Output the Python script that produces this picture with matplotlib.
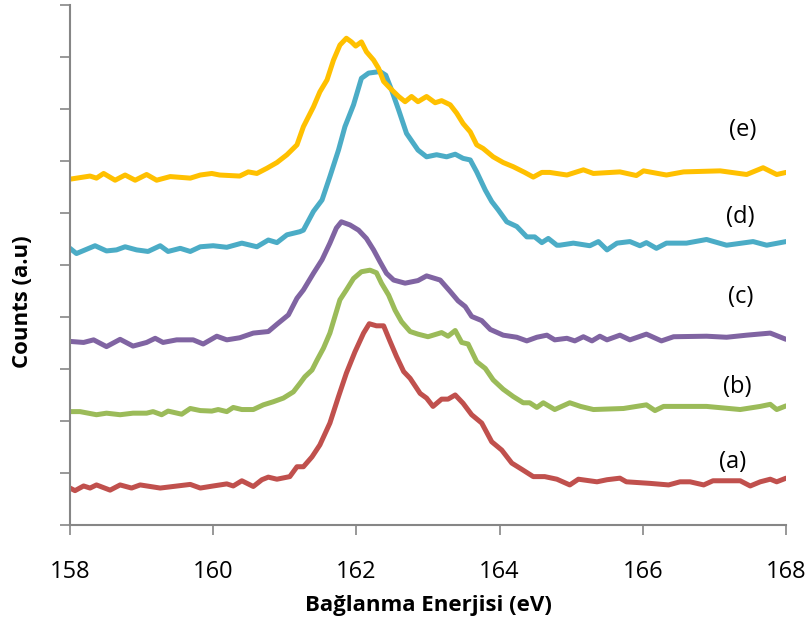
import matplotlib
matplotlib.use("Agg")
import matplotlib.pyplot as plt

# S 2p spectra, stacked (counts in arbitrary units)
energy_a = [158.00, 158.07, 158.19, 158.28, 158.37, 158.56, 158.70, 158.86, 158.98, 159.26,
            159.44, 159.68, 159.82, 160.00, 160.19, 160.28, 160.40, 160.56, 160.68, 160.77,
            160.89, 161.07, 161.17, 161.26, 161.38, 161.49, 161.63, 161.75, 161.86, 161.98,
            162.10, 162.18, 162.28, 162.38, 162.47, 162.56, 162.66, 162.75, 162.89, 162.98,
            163.07, 163.19, 163.28, 163.38, 163.49, 163.61, 163.75, 163.89, 164.03, 164.17,
            164.31, 164.47, 164.63, 164.80, 164.98, 165.10, 165.36, 165.50, 165.68, 165.77,
            166.10, 166.36, 166.52, 166.66, 166.85, 166.98, 167.36, 167.50, 167.64, 167.78,
            167.87, 168.00]
counts_a = [0.71, 0.66, 0.75, 0.71, 0.77, 0.67, 0.77, 0.71, 0.77, 0.71,
            0.74, 0.78, 0.71, 0.75, 0.79, 0.75, 0.85, 0.74, 0.87, 0.92,
            0.88, 0.93, 1.12, 1.12, 1.31, 1.54, 1.96, 2.47, 2.92, 3.33,
            3.69, 3.87, 3.83, 3.83, 3.53, 3.24, 2.95, 2.82, 2.53, 2.44,
            2.28, 2.42, 2.42, 2.50, 2.34, 2.12, 1.96, 1.60, 1.44, 1.19,
            1.07, 0.93, 0.93, 0.88, 0.77, 0.88, 0.83, 0.87, 0.90, 0.83,
            0.80, 0.77, 0.83, 0.83, 0.77, 0.85, 0.85, 0.75, 0.83, 0.88,
            0.83, 0.90]

energy_b = [158.00, 158.14, 158.37, 158.51, 158.70, 158.88, 159.07, 159.16, 159.28, 159.37,
            159.56, 159.68, 159.82, 159.98, 160.07, 160.19, 160.28, 160.40, 160.56, 160.70,
            160.84, 160.98, 161.12, 161.21, 161.28, 161.38, 161.45, 161.54, 161.63, 161.70,
            161.77, 161.86, 161.96, 162.07, 162.19, 162.28, 162.35, 162.45, 162.54, 162.63,
            162.75, 162.86, 163.00, 163.19, 163.28, 163.38, 163.47, 163.56, 163.68, 163.80,
            163.91, 164.05, 164.19, 164.33, 164.42, 164.52, 164.61, 164.77, 164.98, 165.13,
            165.31, 165.73, 166.05, 166.17, 166.29, 166.61, 166.89, 167.36, 167.64, 167.78,
            167.87, 168.00]
counts_b = [2.18, 2.18, 2.12, 2.15, 2.12, 2.15, 2.15, 2.18, 2.12, 2.19,
            2.13, 2.24, 2.20, 2.19, 2.22, 2.18, 2.26, 2.22, 2.22, 2.31,
            2.37, 2.44, 2.56, 2.72, 2.85, 2.98, 3.17, 3.40, 3.69, 4.01,
            4.33, 4.52, 4.74, 4.87, 4.90, 4.85, 4.65, 4.42, 4.13, 3.91,
            3.72, 3.67, 3.62, 3.70, 3.63, 3.74, 3.51, 3.48, 3.14, 3.01,
            2.79, 2.61, 2.47, 2.35, 2.35, 2.26, 2.35, 2.22, 2.35, 2.28,
            2.22, 2.24, 2.31, 2.20, 2.28, 2.28, 2.28, 2.22, 2.28, 2.32,
            2.22, 2.29]

energy_c = [158.00, 158.19, 158.33, 158.51, 158.70, 158.88, 159.07, 159.19, 159.30, 159.49,
            159.72, 159.86, 160.05, 160.19, 160.37, 160.56, 160.77, 160.89, 161.05, 161.17,
            161.26, 161.40, 161.52, 161.63, 161.72, 161.79, 161.91, 162.03, 162.14, 162.24,
            162.33, 162.42, 162.52, 162.68, 162.86, 162.98, 163.17, 163.31, 163.42, 163.52,
            163.61, 163.75, 163.87, 164.05, 164.24, 164.38, 164.52, 164.66, 164.77, 164.94,
            165.05, 165.17, 165.29, 165.40, 165.50, 165.68, 165.82, 166.05, 166.26, 166.43,
            166.89, 167.17, 167.45, 167.78, 168.00]
counts_c = [3.53, 3.51, 3.56, 3.43, 3.57, 3.44, 3.51, 3.59, 3.51, 3.56,
            3.56, 3.48, 3.63, 3.56, 3.60, 3.69, 3.72, 3.86, 4.04, 4.36,
            4.52, 4.84, 5.10, 5.42, 5.71, 5.83, 5.77, 5.67, 5.51, 5.29,
            5.06, 4.84, 4.71, 4.65, 4.70, 4.79, 4.71, 4.49, 4.31, 4.20,
            4.01, 3.93, 3.76, 3.65, 3.61, 3.54, 3.61, 3.65, 3.56, 3.59,
            3.54, 3.62, 3.54, 3.63, 3.56, 3.65, 3.56, 3.67, 3.54, 3.62,
            3.63, 3.61, 3.65, 3.69, 3.57]

energy_d = [158.00, 158.09, 158.35, 158.51, 158.65, 158.77, 158.93, 159.09, 159.26, 159.37,
            159.54, 159.68, 159.82, 160.00, 160.19, 160.40, 160.61, 160.77, 160.89, 161.03,
            161.21, 161.26, 161.40, 161.52, 161.63, 161.75, 161.84, 161.96, 162.07, 162.17,
            162.33, 162.41, 162.49, 162.59, 162.70, 162.86, 162.98, 163.12, 163.26, 163.38,
            163.49, 163.59, 163.68, 163.80, 163.89, 163.98, 164.10, 164.24, 164.38, 164.49,
            164.59, 164.68, 164.80, 164.84, 165.03, 165.26, 165.38, 165.50, 165.64, 165.82,
            165.96, 166.05, 166.19, 166.33, 166.61, 166.89, 167.17, 167.54, 167.73, 168.00]
counts_d = [5.32, 5.22, 5.37, 5.27, 5.29, 5.35, 5.29, 5.26, 5.37, 5.26,
            5.32, 5.26, 5.35, 5.37, 5.34, 5.42, 5.35, 5.48, 5.43, 5.58,
            5.64, 5.67, 6.03, 6.25, 6.70, 7.21, 7.66, 8.08, 8.59, 8.69,
            8.72, 8.65, 8.37, 7.98, 7.53, 7.21, 7.08, 7.12, 7.08, 7.13,
            7.05, 7.02, 6.79, 6.44, 6.22, 6.06, 5.83, 5.74, 5.54, 5.54,
            5.43, 5.51, 5.38, 5.38, 5.42, 5.37, 5.45, 5.29, 5.42, 5.45,
            5.37, 5.43, 5.32, 5.42, 5.42, 5.49, 5.38, 5.45, 5.38, 5.45]

energy_e = [158.00, 158.28, 158.37, 158.47, 158.63, 158.77, 158.91, 159.07, 159.21, 159.40,
            159.68, 159.82, 159.98, 160.09, 160.37, 160.49, 160.61, 160.75, 160.89, 161.03,
            161.17, 161.26, 161.40, 161.49, 161.59, 161.68, 161.77, 161.86, 161.93, 161.99,
            162.07, 162.14, 162.24, 162.31, 162.38, 162.47, 162.59, 162.68, 162.77, 162.86,
            162.98, 163.10, 163.19, 163.31, 163.40, 163.49, 163.59, 163.68, 163.77, 163.91,
            164.05, 164.19, 164.35, 164.47, 164.59, 164.70, 164.94, 165.17, 165.31, 165.68,
            165.91, 166.01, 166.33, 166.57, 167.08, 167.45, 167.68, 167.87, 168.00]
counts_e = [6.65, 6.71, 6.67, 6.76, 6.63, 6.73, 6.63, 6.74, 6.63, 6.70,
            6.67, 6.73, 6.76, 6.73, 6.71, 6.79, 6.76, 6.86, 6.97, 7.12,
            7.31, 7.66, 8.04, 8.33, 8.56, 8.94, 9.23, 9.36, 9.29, 9.21,
            9.29, 9.10, 8.94, 8.78, 8.53, 8.40, 8.24, 8.14, 8.24, 8.14,
            8.24, 8.12, 8.16, 8.08, 7.92, 7.72, 7.56, 7.31, 7.24, 7.08,
            6.97, 6.89, 6.78, 6.69, 6.78, 6.78, 6.73, 6.83, 6.76, 6.79,
            6.72, 6.81, 6.73, 6.79, 6.81, 6.74, 6.87, 6.74, 6.78]

labels = ["(a)", "(b)", "(c)", "(d)", "(e)"]
label_x = [167.25, 167.32, 167.37, 167.36, 167.39]
label_y = [1.21, 2.65, 4.38, 5.92, 7.60]

series = [
    (energy_a, counts_a, "#C0504D"),
    (energy_b, counts_b, "#9BBB59"),
    (energy_c, counts_c, "#8064A2"),
    (energy_d, counts_d, "#4BACC6"),
    (energy_e, counts_e, "#FFC000"),
]

plt.rcParams["font.family"] = ["Open Sans", "DejaVu Sans"]

fig = plt.figure(figsize=(8.11, 6.22), dpi=100)
ax = fig.add_axes([0.0863, 0.156, 0.8829, 0.836])

for x, y, color in series:
    ax.plot(x, y, color=color, lw=3.6, solid_joinstyle="round", solid_capstyle="round")

for lab, lx, ly in zip(labels, label_x, label_y):
    ax.text(lx, ly, lab, fontsize=17, ha="center", va="center")

ax.set_xlim(158, 168)
ax.set_ylim(0, 10)
ax.set_xticks([158, 160, 162, 164, 166, 168])
ax.set_yticks(range(0, 11))
ax.set_yticklabels([])
ax.tick_params(axis="x", length=7, width=1.2, color="#868686", labelsize=17, pad=18)
ax.tick_params(axis="y", length=7, width=1.2, color="#868686")
for side in ["top", "right"]:
    ax.spines[side].set_visible(False)
for side in ["left", "bottom"]:
    ax.spines[side].set_color("#868686")
    ax.spines[side].set_linewidth(1.5)

ax.set_xlabel("Bağlanma Enerjisi (eV)", fontsize=16, fontweight="bold", labelpad=8)
ax.set_ylabel("Counts (a.u)", fontsize=16, fontweight="bold")
ax.yaxis.set_label_coords(-0.051, 0.43)

fig.savefig("out.png", dpi=100)
